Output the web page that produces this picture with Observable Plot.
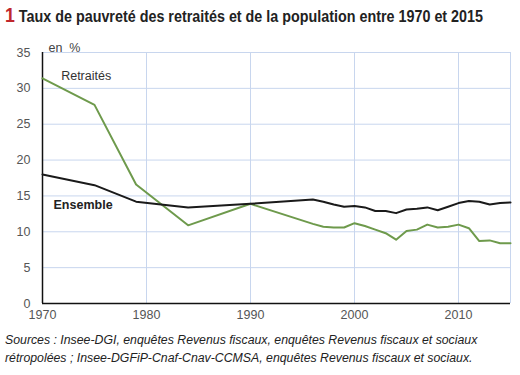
<!DOCTYPE html>
<html><head><meta charset="utf-8">
<script src="https://cdn.jsdelivr.net/npm/d3@7"></script>
<script src="https://cdn.jsdelivr.net/npm/@observablehq/plot@0.6"></script>
<style>
body{margin:0;background:#fff;width:520px;height:375px;overflow:hidden;position:relative;font-family:"Liberation Sans",Arial,sans-serif}
#title{position:absolute;left:5px;top:3px;font-family:"Liberation Sans",Arial,sans-serif;font-weight:bold;font-size:17px;color:#222;white-space:nowrap;transform-origin:0 0}
#title .n{color:#c0272d;font-size:21px}
#chart{position:absolute;left:0;top:30px}
#cap{position:absolute;left:5px;top:331px;font-style:italic;font-size:12.3px;line-height:18px;color:#222;white-space:nowrap}
</style></head><body>
<div id="title"><span class="n">1</span> Taux de pauvreté des retraités et de la population entre 1970 et 2015</div>
<div id="chart"></div>
<div id="cap">Sources : Insee-DGI, enquêtes Revenus fiscaux, enquêtes Revenus fiscaux et sociaux<br>rétropolées ; Insee-DGFiP-Cnaf-Cnav-CCMSA, enquêtes Revenus fiscaux et sociaux.</div>
<script>
const years = [1970,1975,1979,1984,1990,1996,1997,1998,1999,2000,2001,2002,2003,2004,2005,2006,2007,2008,2009,2010,2011,2012,2013,2014,2015];
const ensemble = [18.0,16.5,14.2,13.4,13.9,14.5,14.2,13.8,13.5,13.6,13.4,12.9,12.9,12.6,13.1,13.2,13.4,13.0,13.5,14.0,14.3,14.2,13.8,14.0,14.1];
const retraites = [31.4,27.7,16.6,10.9,13.9,11.1,10.7,10.6,10.6,11.2,10.8,10.3,9.8,8.9,10.1,10.3,11.0,10.6,10.7,11.0,10.5,8.7,8.8,8.4,8.4];
const xTicks = [1970,1980,1990,2000,2010];
const yTicks = [0,5,10,15,20,25,30,35];
const labelRetraites = [{year:1974.2, value:31.7, text:"Retraités"}];
const labelEnsemble = [{year:1973.9, value:13.7, text:"Ensemble"}];

// fit title to reference width
const t = document.getElementById("title");
const w = t.getBoundingClientRect().width;
t.style.transform = `scaleX(${478 / w})`;

const dE = years.map((y,i)=>({year:y, value:ensemble[i]}));
const dR = years.map((y,i)=>({year:y, value:retraites[i]}));
const grid = "#c8d6ee";

const chart = Plot.plot({
  width:520, height:300,
  marginLeft:42, marginRight:10, marginTop:22, marginBottom:27,
  style:{fontFamily:"Liberation Sans, Arial, sans-serif", fontSize:"12px", color:"#555", background:"transparent"},
  x:{domain:[1970,2015], label:null},
  y:{domain:[0,35], label:null},
  marks:[
    Plot.gridX(xTicks.concat([2015]), {stroke:grid, strokeOpacity:1, strokeWidth:1}),
    Plot.gridY(yTicks, {stroke:grid, strokeOpacity:1, strokeWidth:1}),
    Plot.axisX({ticks:xTicks, tickFormat:d=>String(d), tickSize:0, tickPadding:7, fill:"#555", fontSize:12.5}),
    Plot.axisY({ticks:yTicks, tickSize:0, tickPadding:12, fill:"#555", fontSize:12.5}),
    Plot.ruleX([1970], {stroke:"#111", strokeWidth:1.5}),
    Plot.ruleY([0], {stroke:"#111", strokeWidth:1.5}),
    Plot.line(dR, {x:"year", y:"value", stroke:"#6e9a4c", strokeWidth:2}),
    Plot.line(dE, {x:"year", y:"value", stroke:"#1a1a1a", strokeWidth:2}),
    Plot.text(labelRetraites, {x:"year", y:"value", text:"text", fill:"#333", fontSize:12.5}),
    Plot.text(labelEnsemble, {x:"year", y:"value", text:"text", fontWeight:"bold", fill:"#222", fontSize:12.5}),
    Plot.text(["en  %"], {frameAnchor:"top-left", dx:6, dy:-9, fill:"#444", fontSize:12.5, textAnchor:"start", style:{whiteSpace:"pre"}})
  ]
});
document.getElementById("chart").appendChild(chart);
</script>
</body></html>
